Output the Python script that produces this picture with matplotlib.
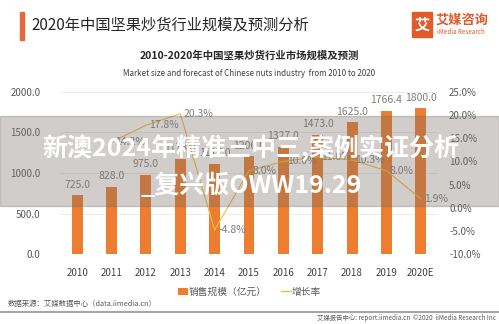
import matplotlib
matplotlib.use("Agg")
import matplotlib.pyplot as plt
from matplotlib.patches import Rectangle
from matplotlib.lines import Line2D
from matplotlib.patches import Patch

plt.rcParams['font.family'] = ['Noto Sans CJK SC', 'DejaVu Sans']

years = ["2010", "2011", "2012", "2013", "2014", "2015", "2016", "2017", "2018", "2019", "2020E"]
sales = [725.0, 828.0, 975.0, 1173.0, 1117.0, 1206.0, 1327.0, 1473.0, 1625.0, 1766.4, 1800.0]
growth_years = ["2011", "2012", "2013", "2014", "2015", "2016", "2017", "2018", "2019", "2020E"]
growth = [14.2, 17.8, 20.3, -4.8, 8.0, 10.0, 11.0, 10.3, 8.0, 1.9]
left_ticks = [0, 500, 1000, 1500, 2000]
right_ticks = [-10, -5, 0, 5, 10, 15, 20, 25]

W, H = 499, 324
fig = plt.figure(figsize=(W / 100, H / 100), dpi=100)

def fx(px):
    return px / W

def fy(py):
    return 1 - py / H

BAR = "#ED7D31"
LINE = "#F2BE3A"
GREY = "#7F7F7F"

ax = fig.add_axes([fx(60), fy(254), fx(438) - fx(60), fy(92) - fy(254)])
x = list(range(len(years)))
ax.bar(x, sales, width=0.32, color=BAR, zorder=2)
ax.set_ylim(0, 2000)
ax.set_xlim(-0.5, len(years) - 0.5)
ax.set_yticks(left_ticks)
ax.set_yticklabels([f"{v:.1f}" for v in left_ticks], fontsize=7, color="#595959")
ax.set_xticks(x)
ax.set_xticklabels(years, fontsize=7, color="#404040")
ax.tick_params(axis="both", length=0)
ax.tick_params(axis="y", pad=14)
ax.tick_params(axis="x", pad=10)
for s in ax.spines.values():
    s.set_visible(False)
ax.grid(axis="y", color="#E8E8E8", lw=0.6, zorder=0)
ax.set_axisbelow(True)
for xi, v in zip(x, sales):
    ax.annotate(f"{v:.1f}", (xi, v), xytext=(0, 4), textcoords="offset points",
                ha="center", va="bottom", fontsize=7.5, color=GREY, zorder=3)

ax2 = ax.twinx()
gx = [years.index(y) for y in growth_years]
ax2.plot(gx, growth, color=LINE, lw=0.8, zorder=3)
ax2.set_ylim(-10, 25)
ax2.set_yticks(right_ticks)
ax2.set_yticklabels([f"{v:.1f}%" for v in right_ticks], fontsize=7, color="#595959")
ax2.tick_params(axis="y", length=0, pad=8)
for s in ax2.spines.values():
    s.set_visible(False)
for xi, v in zip(gx, growth):
    ax2.annotate(f"{v:.1f}%", (xi, v), xytext=(2.5, 0), textcoords="offset points",
                 ha="left", va="center", fontsize=7.5, color=GREY, zorder=4)

# Header
fig.patches.append(Rectangle((fx(20), fy(40)), fx(4), fy(12) - fy(40),
                             transform=fig.transFigure, color="#E8663D"))
fig.text(fx(31), fy(25), "2020年中国坚果炒货行业规模及预测分析", fontsize=11,
         color="#262626", ha="left", va="center")
fig.patches.append(Rectangle((fx(412), fy(37)), fx(20), fy(12) - fy(37),
                             transform=fig.transFigure, color="#E05A2B"))
fig.text(fx(422), fy(24.5), "艾", fontsize=11, color="white", ha="center", va="center",
         fontweight="bold")
fig.text(fx(436), fy(20), "艾媒咨询", fontsize=9.5, color="#E05A2B", ha="left",
         va="center", fontweight="bold")
fig.text(fx(437), fy(32), "iMedia Research", fontsize=4.5, color="#E05A2B", ha="left",
         va="center")

# Chart titles
fig.text(0.5, fy(56), "2010-2020年中国坚果炒货行业市场规模及预测", fontsize=7.5,
         fontweight="bold", color="#262626", ha="center", va="center")
fig.text(0.5, fy(73), "Market size and forecast of Chinese nuts industry  from 2010 to 2020",
         fontsize=5.8, color="#404040", ha="center", va="center")

# Legend
handles = [Patch(facecolor=BAR, edgecolor="none"), Line2D([0], [0], color=LINE, lw=1)]
fig.legend(handles, ["销售规模（亿元）", "增长率"], loc="center",
           bbox_to_anchor=(0.5, fy(292)), ncol=2, frameon=False, fontsize=7,
           handlelength=1.0, handleheight=0.8, handletextpad=0.1, columnspacing=1.5,
           labelcolor="#595959")

# Source and footer
fig.text(fx(8), fy(304), "数据来源：艾媒数据中心（data.iimedia.cn）", fontsize=5.3,
         color="#595959", ha="left", va="center")
fig.add_artist(Line2D([0, 1], [fy(312), fy(312)], transform=fig.transFigure,
                      color="#A6A6A6", lw=1.5))
fig.text(fx(496), fy(318.5), "艾媒报告中心: report.iimedia.cn  ©2020  iiMedia Research Inc",
         fontsize=4.6, color="#595959", ha="right", va="center")

# Watermark overlay
fig.patches.append(Rectangle((0, fy(206)), 1, fy(116) - fy(206), transform=fig.transFigure,
                             color="#7A6E64", alpha=0.34, zorder=10))
fig.text(fx(251), fy(148), "新澳2024年精准三中三,案例实证分析", fontsize=18, color="white",
         fontweight="bold", ha="center", va="center", zorder=11)
fig.text(fx(251), fy(185), "_复兴版OWW19.29", fontsize=18, color="white",
         fontweight="bold", ha="center", va="center", zorder=11)

fig.savefig("out.png", dpi=100)
